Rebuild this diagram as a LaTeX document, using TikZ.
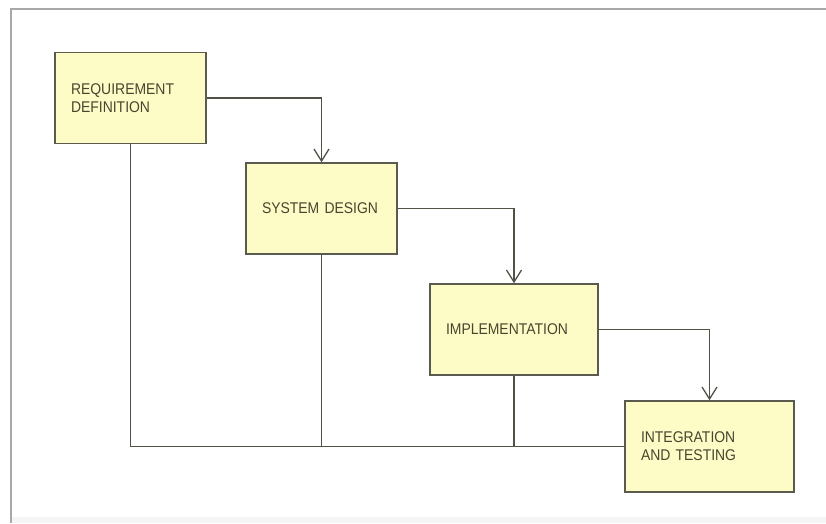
\documentclass[tikz,border=0pt]{standalone}
\usepackage{fontspec}
\setmainfont[FakeStretch=0.9]{Liberation Sans}
\usetikzlibrary{arrows.meta}

\definecolor{phasefill}{HTML}{FDFBC6}
\definecolor{phaseline}{HTML}{5A5A4E}
\definecolor{phasetext}{HTML}{48462E}
\definecolor{frameline}{HTML}{A8A8A8}

\begin{document}
\begin{tikzpicture}[
    x=1pt, y=-1pt, % one unit is one pixel of the sketch
    >={Straight Barb[length=12pt, width=15pt]}, % open V tips
    phase/.style={draw=phaseline, line width=1.5pt, fill=phasefill, text=phasetext,
        font=\fontsize{15.5}{18}\selectfont, align=left, inner xsep=16pt,
        minimum height=91pt}, % Style for the boxes
    flow/.style={->, draw=phaseline!90!black, line width=1.3pt}, % Style for arrows
    back/.style={draw=phaseline!90!black, line width=1.3pt} % Style for return lines
]

    \useasboundingbox (0,0) rectangle (826,523);
    \fill[black!4] (11,517) rectangle (826,523); % faint strip at the bottom

    % Frame
    \draw[frameline, line width=2pt] (826,9) -- (11,9) -- (11,523);

    % Phases
    \node[phase, text width=119pt] (req) at (130.5,98) {REQUIREMENT\\DEFINITION};
    \node[phase, text width=119pt] (sd) at (321.5,208.5) {\mbox{SYSTEM DESIGN}};
    \node[phase, text width=136pt] (impl) at (514,329.5) {IMPLEMENTATION};
    \node[phase, text width=137pt] (integ) at (709.5,446.5) {INTEGRATION\\AND TESTING};

    % Forward arrows
    \draw[flow] (req.east) -| (sd.north);
    \draw[flow] (sd.east) -| (impl.north);
    \draw[flow] (impl.east) -| (integ.north);

    % Lines back along the bottom
    \coordinate (base) at (req.south |- integ.west);
    \draw[back] (req.south) -- (base) -- (integ.west);
    \draw[back] (sd.south) -- (sd.south |- base);
    \draw[back] (impl.south) -- (impl.south |- base);

\end{tikzpicture}
\end{document}
